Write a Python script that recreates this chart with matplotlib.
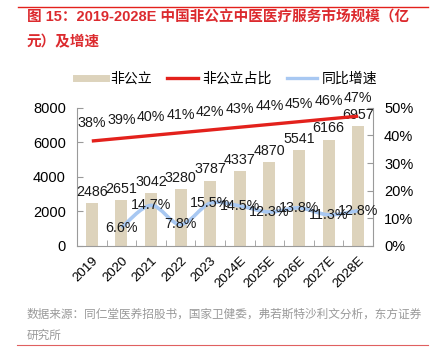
import matplotlib
matplotlib.use('Agg')
import matplotlib.pyplot as plt
from matplotlib.path import Path
from matplotlib.patches import PathPatch
from matplotlib.lines import Line2D

plt.rcParams['font.family'] = ['Liberation Sans', 'Noto Sans CJK SC', 'DejaVu Sans']

years = ['2019', '2020', '2021', '2022', '2023', '2024E', '2025E', '2026E', '2027E', '2028E']
scale = [2486, 2651, 3042, 3280, 3787, 4337, 4870, 5541, 6166, 6957]
share = [38, 39, 40, 41, 42, 43, 44, 45, 46, 47]
growth = [None, 6.6, 14.7, 7.8, 15.5, 14.5, 12.3, 13.8, 11.3, 12.8]

bar_c = '#DDD3BC'
red_c = '#E3211C'
blue_c = '#A8C8F2'
spine_c = '#9A9A9A'


def smooth_path(xs, ys):
    # catmull-rom through the points, drawn as bezier segments
    verts = [(xs[0], ys[0])]
    codes = [Path.MOVETO]
    n = len(xs)
    for i in range(n - 1):
        x0, y0 = (xs[i - 1], ys[i - 1]) if i > 0 else (xs[i], ys[i])
        x1, y1 = xs[i], ys[i]
        x2, y2 = xs[i + 1], ys[i + 1]
        x3, y3 = (xs[i + 2], ys[i + 2]) if i + 2 < n else (x2, y2)
        c1 = (x1 + (x2 - x0) / 6, y1 + (y2 - y0) / 6)
        c2 = (x2 - (x3 - x1) / 6, y2 - (y3 - y1) / 6)
        verts += [c1, c2, (x2, y2)]
        codes += [Path.CURVE4] * 3
    return Path(verts, codes)


fig = plt.figure(figsize=(4.35, 3.56), dpi=100)
ax = fig.add_axes([0.177, 0.309, 0.6805, 0.388])
ax2 = ax.twinx()

x = list(range(len(years)))
ax.bar(x, scale, width=0.4, color=bar_c, zorder=1)
for i, v in enumerate(scale):
    ax.annotate(str(v), (i, v), xytext=(0, 3), textcoords='offset points',
                ha='center', va='bottom', fontsize=10.3, color='#1a1a1a')

ax2.plot(x, share, color=red_c, lw=2.4, solid_capstyle='butt', zorder=3)
for i, v in enumerate(share):
    ax2.annotate(f'{v}%', (i, v), xytext=(0, 8), textcoords='offset points',
                 ha='center', va='bottom', fontsize=10.3, color='#1a1a1a')

gx = [i for i, g in enumerate(growth) if g is not None]
gy = [g for g in growth if g is not None]
ax2.add_patch(PathPatch(smooth_path(gx, gy), fc='none', ec=blue_c, lw=2.6, zorder=3))
for i, v in zip(gx, gy):
    ax2.text(i, v, f'{v}%', ha='center', va='center', fontsize=10.3, color='#1a1a1a', zorder=4)

ax.set_xlim(-0.5, 9.5)
ax.set_ylim(0, 8000)
ax2.set_ylim(0, 50)
ax.set_yticks([0, 2000, 4000, 6000, 8000])
ax2.set_yticks([0, 10, 20, 30, 40, 50])
ax2.set_yticklabels([f'{t}%' for t in [0, 10, 20, 30, 40, 50]])

ax.set_xticks(x)
ax.set_xticklabels(years, rotation=45, ha='right', rotation_mode='anchor')
ax.set_xticks([i + 0.5 for i in range(-1, 10)], minor=True)
ax.tick_params(axis='x', which='major', length=0, pad=6, labelsize=9.5)
ax.tick_params(axis='x', which='minor', direction='in', length=4, color=spine_c)
ax.tick_params(axis='y', direction='in', length=4, color=spine_c, labelsize=10.5, pad=8)
ax2.tick_params(axis='y', direction='in', length=4, color=spine_c, labelsize=10.5, pad=8)

for a in (ax, ax2):
    a.spines['top'].set_visible(False)
    for s in ('left', 'right', 'bottom'):
        a.spines[s].set_color(spine_c)
ax.spines['right'].set_visible(False)
ax2.spines['left'].set_visible(False)
ax2.spines['bottom'].set_visible(False)

handles = [Line2D([], [], color=bar_c, lw=5),
           Line2D([], [], color=red_c, lw=2.4),
           Line2D([], [], color=blue_c, lw=2.4)]
fig.legend(handles, ['非公立', '非公立占比', '同比增速'], loc='center',
           bbox_to_anchor=(0.52, 0.778), ncol=3, frameon=False, fontsize=10,
           handlelength=2.2, handletextpad=0.3, columnspacing=1.1)

fig.text(0.062, 0.952, '图 15：2019-2028E 中国非公立中医医疗服务市场规模（亿',
         color='#DC2A2E', fontsize=10.5, fontweight='bold', va='center')
fig.text(0.062, 0.882, '元）及增速', color='#DC2A2E', fontsize=10.5,
         fontweight='bold', va='center')
fig.text(0.062, 0.115, '数据来源：同仁堂医养招股书，国家卫健委，弗若斯特沙利文分析，东方证券',
         color='#999999', fontsize=8.4, va='center')
fig.text(0.062, 0.057, '研究所', color='#999999', fontsize=8.4, va='center')

fig.add_artist(Line2D([0.041, 0.984], [0.98, 0.98], color='#E3211C', lw=1))
fig.add_artist(Line2D([0.039, 0.984], [0.031, 0.031], color='#E06060', lw=0.8))

fig.savefig('out.png', dpi=100)
